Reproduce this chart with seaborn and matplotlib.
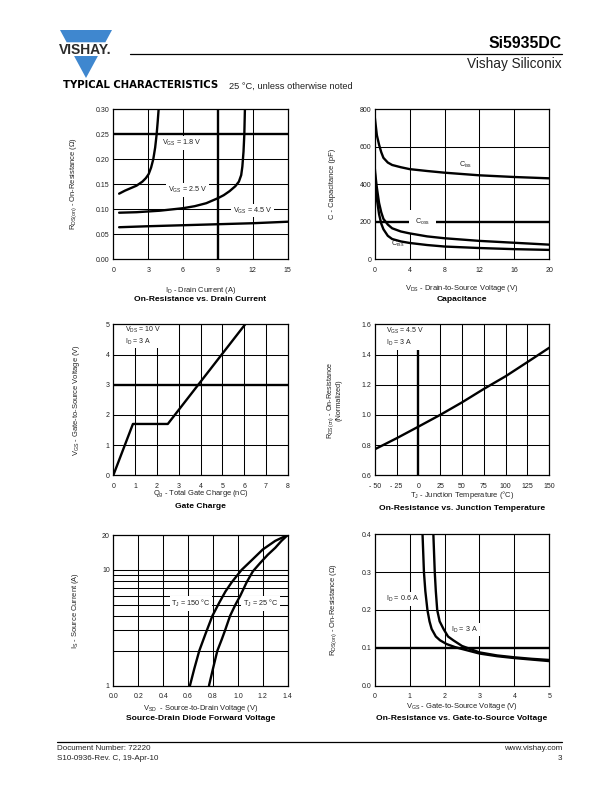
import numpy as np
import pandas as pd
import matplotlib
matplotlib.use('Agg')
import matplotlib.pyplot as plt
import seaborn as sns
from matplotlib.patches import Polygon
from matplotlib.lines import Line2D

# ---------------- data ----------------
# Chart 1: On-Resistance vs Drain Current
id_45 = [0.5, 3, 6, 9, 12, 15]
rds_45 = [0.064, 0.066, 0.068, 0.070, 0.072, 0.075]
id_25 = [0.5, 2, 4, 6, 7, 8, 9, 9.5, 10, 10.5, 10.8, 11.0, 11.1, 11.2, 11.27, 11.32]
rds_25 = [0.093, 0.094, 0.097, 0.102, 0.106, 0.112, 0.122, 0.128, 0.136, 0.146, 0.155, 0.168, 0.185, 0.215, 0.25, 0.30]
id_18 = [0.5, 1, 1.5, 2, 2.5, 2.8, 3.04, 3.25, 3.44, 3.6, 3.73, 3.82, 3.9]
rds_18 = [0.131, 0.137, 0.142, 0.147, 0.155, 0.162, 0.170, 0.183, 0.200, 0.223, 0.250, 0.275, 0.300]

# Chart 2: Capacitance
vds_c = [0, 0.1, 0.25, 0.5, 0.75, 1, 1.5, 2, 3, 4, 6, 8, 12, 16, 20]
ciss = [760, 720, 660, 610, 570, 540, 515, 502, 490, 480, 470, 461, 447, 438, 431]
coss = [490, 440, 380, 300, 250, 215, 185, 165, 148, 138, 122, 112, 98, 88, 78]
crss = [470, 400, 320, 240, 190, 160, 125, 108, 95, 87, 76, 68, 60, 54, 50]

# Chart 3: Gate charge
qg = [0, 0.9, 2.5, 6.05]
vgs_qg = [0, 1.7, 1.7, 5.0]

# Chart 4: On-resistance vs junction temperature
tj = [-50, -25, 0, 25, 50, 75, 100, 125, 150]
rds_norm = [0.772, 0.845, 0.922, 1.0, 1.083, 1.172, 1.256, 1.350, 1.445]

# Chart 5: Source-drain diode forward voltage
vsd_150 = [0.615, 0.65, 0.69, 0.74, 0.795, 0.85, 0.9, 0.95, 1.03, 1.1, 1.2, 1.3, 1.4]
is_150 = [1.0, 1.4, 2.0, 2.8, 4.0, 5.2, 6.5, 7.8, 10.0, 11.8, 15.0, 17.8, 20.0]
vsd_25 = [0.768, 0.80, 0.835, 0.87, 0.897, 0.937, 0.98, 1.02, 1.07, 1.12, 1.18, 1.24, 1.3, 1.35, 1.4]
is_25 = [1.0, 1.4, 2.0, 2.5, 3.0, 4.0, 5.0, 6.0, 7.8, 9.7, 11.5, 13.5, 15.5, 17.8, 20.0]

# Chart 6: On-resistance vs gate-to-source voltage
vgs_06 = [1.37, 1.39, 1.41, 1.45, 1.51, 1.57, 1.63, 1.75, 1.87, 2.06, 2.3, 2.5, 3.0, 3.5, 4.0, 4.5, 5.0]
rds_06 = [0.40, 0.35, 0.30, 0.25, 0.20, 0.17, 0.15, 0.13, 0.12, 0.11, 0.102, 0.097, 0.085, 0.078, 0.073, 0.069, 0.065]
vgs_3 = [1.68, 1.70, 1.72, 1.75, 1.79, 1.86, 1.97, 2.1, 2.25, 2.5, 3.0, 3.5, 4.0, 4.5, 5.0]
rds_3 = [0.40, 0.35, 0.30, 0.25, 0.20, 0.17, 0.15, 0.13, 0.12, 0.105, 0.088, 0.080, 0.075, 0.071, 0.068]

# ---------------- style ----------------
sns.set_theme(style='white')
plt.rcParams['font.family'] = ['Liberation Sans', 'DejaVu Sans']
plt.rcParams['mathtext.fontset'] = 'custom'
plt.rcParams['mathtext.rm'] = 'Liberation Sans'
plt.rcParams['mathtext.it'] = 'Liberation Sans:italic'
plt.rcParams['mathtext.bf'] = 'Liberation Sans:bold'

W, H = 612, 792
fig = plt.figure(figsize=(W / 100, H / 100), dpi=100)

def rect(x0, y0, x1, y1):
    return [x0 / W, 1 - y1 / H, (x1 - x0) / W, (y1 - y0) / H]

def fx(x):
    return x / W

def fy(y):
    return 1 - y / H

THIN = 0.75
THICK = 1.7
CURVE = 1.7
TXT = '#222222'

def style_ax(ax, xlim, ylim, xticks, xlabels, yticks, ylabels,
             vgrid=(), hgrid=(), vthick=(), hthick=()):
    ax.set_xlim(xlim)
    ax.set_ylim(ylim)
    ax.set_xticks(xticks)
    ax.set_xticklabels(xlabels)
    ax.set_yticks(yticks)
    ax.set_yticklabels(ylabels)
    ax.grid(False)
    for v in vgrid:
        ax.axvline(v, color='black', lw=THIN, zorder=1)
    for h in hgrid:
        ax.axhline(h, color='black', lw=THIN, zorder=1)
    for v in vthick:
        ax.axvline(v, color='black', lw=THICK, zorder=1)
    for h in hthick:
        ax.axhline(h, color='black', lw=THICK, zorder=1)
    for s in ax.spines.values():
        s.set_color('black')
        s.set_linewidth(0.9)
    ax.tick_params(axis='both', length=0, labelsize=5, colors=TXT)
    ax.tick_params(axis='x', pad=5.5)
    ax.tick_params(axis='y', pad=2.5)
    ax.set_xlabel('')
    ax.set_ylabel('')
    ax.set_facecolor('white')

def curve(ax, x, y):
    sns.lineplot(x=x, y=y, ax=ax, color='black', lw=CURVE, sort=False,
                 estimator=None, legend=False, zorder=3)

def label(ax, x, y, s, ha='left', va='center', fs=5.2):
    ax.text(x, y, s, ha=ha, va=va, fontsize=fs, color=TXT, zorder=2.5,
            bbox=dict(facecolor='white', edgecolor='none', pad=1.2))

def axis_texts(xl_x, xl_y, xl, t_y, title, yl_x, yl_y, yl):
    fig.text(fx(xl_x), fy(xl_y), xl, ha='center', va='center', fontsize=5.4, color=TXT)
    fig.text(fx(xl_x), fy(t_y), title, ha='center', va='center', fontsize=6.1,
             fontweight='bold', color='black')
    if isinstance(yl, str):
        fig.text(fx(yl_x), fy(yl_y), yl, ha='center', va='center', fontsize=5.4,
                 rotation=90, color=TXT)

# ---------------- Chart 1 ----------------
ax1 = fig.add_axes(rect(113.3, 109, 287.7, 259.3))
style_ax(ax1, (0, 15), (0, 0.30), [0, 3, 6, 9, 12, 15], ['0', '3', '6', '9', '12', '15'],
         [0, 0.05, 0.10, 0.15, 0.20, 0.25, 0.30],
         ['0.00', '0.05', '0.10', '0.15', '0.20', '0.25', '0.30'],
         vgrid=[3, 6, 12], hgrid=[0.05, 0.10, 0.15, 0.20], vthick=[9], hthick=[0.25])
curve(ax1, id_45, rds_45)
curve(ax1, id_25, rds_25)
curve(ax1, id_18, rds_18)
label(ax1, 4.15, 0.232, r'V$_{\mathrm{GS}}$ = 1.8 V')
label(ax1, 4.7, 0.138, r'V$_{\mathrm{GS}}$ = 2.5 V')
label(ax1, 10.3, 0.0975, r'V$_{\mathrm{GS}}$ = 4.5 V')
axis_texts(200.5, 290, r'I$_{\mathrm{D}}$ - Drain Current (A)', 299.5,
           'On-Resistance vs. Drain Current', 73.5, 184,
           r'R$_{\mathrm{DS(on)}}$ - On-Resistance ($\Omega$)')

# ---------------- Chart 2 ----------------
ax2 = fig.add_axes(rect(374.7, 109, 549.3, 259.3))
style_ax(ax2, (0, 20), (0, 800), [0, 4, 8, 12, 16, 20], ['0', '4', '8', '12', '16', '20'],
         [0, 200, 400, 600, 800], ['0', '200', '400', '600', '800'],
         vgrid=[4, 8, 12, 16], hgrid=[400, 600], hthick=[200])
curve(ax2, vds_c, ciss)
curve(ax2, vds_c, coss)
curve(ax2, vds_c, crss)
label(ax2, 9.6, 500, r'C$_{\mathrm{iss}}$')
ax2.text(5.5, 200, r'C$_{\mathrm{oss}}$', ha='center', va='center', fontsize=5.2, color=TXT,
         zorder=2.5, bbox=dict(facecolor='white', edgecolor='none', pad=4.5))
label(ax2, 1.9, 82, r'C$_{\mathrm{rss}}$')
axis_texts(462, 288.5, r'V$_{\mathrm{DS}}$ - Drain-to-Source Voltage (V)', 299.5,
           'Capacitance', 333, 184, 'C - Capacitance (pF)')

# ---------------- Chart 3 ----------------
ax3 = fig.add_axes(rect(113.3, 324.3, 287.7, 475.3))
style_ax(ax3, (0, 8), (0, 5), list(range(9)), [str(i) for i in range(9)],
         list(range(6)), [str(i) for i in range(6)],
         vgrid=[1, 2, 3, 4, 5, 6, 7], hgrid=[1, 2, 4], hthick=[3])
curve(ax3, qg, vgs_qg)
label(ax3, 0.52, 4.62, 'V$_{\\mathrm{DS}}$ = 10 V\nI$_{\\mathrm{D}}$ = 3 A', fs=5.0)
axis_texts(200.5, 494, r'Q$_{\mathrm{g}}$ - Total Gate Charge (nC)', 506.5,
           'Gate Charge', 76.5, 400, r'V$_{\mathrm{GS}}$ - Gate-to-Source Voltage (V)')

# ---------------- Chart 4 ----------------
ax4 = fig.add_axes(rect(374.7, 324.3, 549.3, 475.3))
style_ax(ax4, (-50, 150), (0.6, 1.6), [-50, -25, 0, 25, 50, 75, 100, 125, 150],
         ['- 50', '- 25', '0', '25', '50', '75', '100', '125', '150'],
         [0.6, 0.8, 1.0, 1.2, 1.4, 1.6], ['0.6', '0.8', '1.0', '1.2', '1.4', '1.6'],
         vgrid=[-25, 25, 50, 75, 100, 125], hgrid=[0.8, 1.0, 1.2, 1.4], vthick=[0])
curve(ax4, tj, rds_norm)
label(ax4, -37, 1.515, 'V$_{\\mathrm{GS}}$ = 4.5 V\nI$_{\\mathrm{D}}$ = 3 A', fs=5.0)
axis_texts(462, 495, r'T$_{\mathrm{J}}$ - Junction Temperature ($\degree$C)', 508,
           'On-Resistance vs. Junction Temperature', 0, 0, None)
fig.text(fx(330.3), fy(400), r'R$_{\mathrm{DS(on)}}$ - On-Resistance', ha='center', va='center',
         fontsize=5.2, rotation=90, color=TXT)
fig.text(fx(338.6), fy(400), '(Normalized)', ha='center', va='center',
         fontsize=5.2, rotation=90, color=TXT)

# ---------------- Chart 5 ----------------
ax5 = fig.add_axes(rect(113.3, 535, 287.7, 685.7))
ax5.set_yscale('log')
style_ax(ax5, (0, 1.4), (1, 20), [0, 0.2, 0.4, 0.6, 0.8, 1.0, 1.2, 1.4],
         ['0.0', '0.2', '0.4', '0.6', '0.8', '1.0', '1.2', '1.4'],
         [1, 10, 20], ['1', '10', '20'],
         vgrid=[0.2, 0.4, 0.6, 0.8, 1.0, 1.2], hgrid=[2, 3, 4, 5, 6, 7, 8, 9, 10])
ax5.minorticks_off()
ax5.set_yticks([1, 10, 20])
ax5.set_yticklabels(['1', '10', '20'])
curve(ax5, vsd_150, is_150)
curve(ax5, vsd_25, is_25)
label(ax5, 0.465, 5.15, r'T$_{\mathrm{J}}$ = 150 $\degree$C')
label(ax5, 1.04, 5.15, r'T$_{\mathrm{J}}$ = 25 $\degree$C')
axis_texts(200.5, 708.5, r'V$_{\mathrm{SD}}$  - Source-to-Drain Voltage (V)', 719,
           'Source-Drain Diode Forward Voltage', 75.5, 610, r'I$_{\mathrm{S}}$ - Source Current (A)')

# ---------------- Chart 6 ----------------
ax6 = fig.add_axes(rect(374.7, 534.3, 549.3, 685.7))
style_ax(ax6, (0, 5), (0, 0.4), [0, 1, 2, 3, 4, 5], ['0', '1', '2', '3', '4', '5'],
         [0, 0.1, 0.2, 0.3, 0.4], ['0.0', '0.1', '0.2', '0.3', '0.4'],
         vgrid=[1, 2, 3, 4], hgrid=[0.2, 0.3], hthick=[0.1])
curve(ax6, vgs_06, rds_06)
curve(ax6, vgs_3, rds_3)
label(ax6, 0.33, 0.229, r'I$_{\mathrm{D}}$ = 0.6 A')
label(ax6, 2.18, 0.148, r'I$_{\mathrm{D}}$ = 3 A')
axis_texts(462, 707, r'V$_{\mathrm{GS}}$ - Gate-to-Source Voltage (V)', 719,
           'On-Resistance vs. Gate-to-Source Voltage', 334, 610,
           r'R$_{\mathrm{DS(on)}}$ - On-Resistance ($\Omega$)')

# ---------------- header ----------------
blue = '#3f87cf'
apex = (86, 78)
def tri_x(y):
    return 60 + (y - 30) * 26 / 48
upper = [(60, 30), (112, 30), (172 - tri_x(42.3), 42.3), (tri_x(42.3), 42.3)]
lower = [(tri_x(56), 56), (172 - tri_x(56), 56), apex]
for poly in (upper, lower):
    fig.patches.append(Polygon([(fx(px), fy(py)) for px, py in poly], closed=True,
                               transform=fig.transFigure, facecolor=blue, edgecolor='none'))
fig.text(fx(59), fy(53.5), 'VISHAY.', ha='left', va='baseline', fontsize=10,
         fontweight='bold', color='#2b2b2b')

fig.add_artist(Line2D([fx(130), fx(562)], [fy(54.3), fy(54.3)], color='black', lw=0.9,
                      transform=fig.transFigure))
fig.text(fx(562), fy(48.3), 'Si5935DC', ha='right', va='baseline', fontsize=11.4,
         fontweight='bold', color='black')
fig.text(fx(562), fy(68.3), 'Vishay Siliconix', ha='right', va='baseline', fontsize=9.8,
         color=TXT)
fig.text(fx(63), fy(88.5), 'TYPICAL CHARACTERISTICS', ha='left', va='baseline', fontsize=7.3,
         fontweight='bold', family='DejaVu Sans', color='black')
fig.text(fx(229), fy(88.5), '25 \u00b0C, unless otherwise noted', ha='left', va='baseline',
         fontsize=6.7, color=TXT)

# ---------------- footer ----------------
fig.add_artist(Line2D([fx(57), fx(562)], [fy(742), fy(742)], color='black', lw=0.9,
                      transform=fig.transFigure))
fig.text(fx(57), fy(750.5), 'Document Number: 72220', ha='left', va='baseline', fontsize=5.8, color=TXT)
fig.text(fx(57), fy(759.5), 'S10-0936-Rev. C, 19-Apr-10', ha='left', va='baseline', fontsize=5.8, color=TXT)
fig.text(fx(562), fy(750.5), 'www.vishay.com', ha='right', va='baseline', fontsize=5.8, color=TXT)
fig.text(fx(562), fy(759.5), '3', ha='right', va='baseline', fontsize=5.8, color=TXT)

fig.savefig('out.png', dpi=100, facecolor='white')
